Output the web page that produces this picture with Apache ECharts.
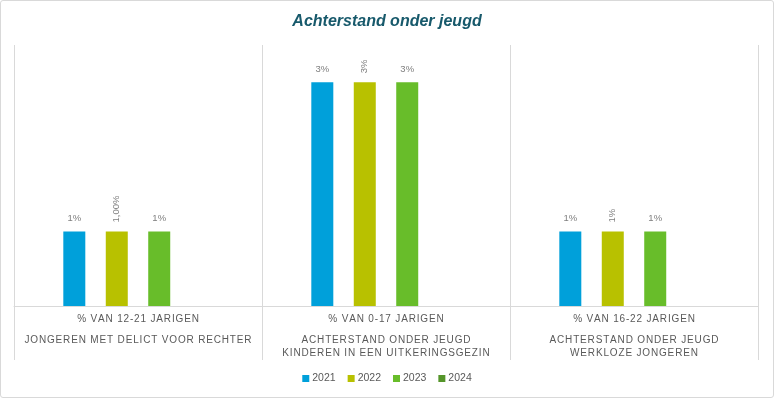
<!DOCTYPE html>
<html>
<head>
<meta charset="utf-8">
<script src="https://cdn.jsdelivr.net/npm/echarts@6/dist/echarts.min.js"></script>
<style>
html,body{margin:0;padding:0;background:#fff;}
#wrap{width:774px;height:398px;box-sizing:border-box;border:1px solid #d9d9d9;border-radius:3px;overflow:hidden;}
#chart{width:772px;height:396px;}
</style>
</head>
<body>
<div id="wrap"><div id="chart"></div></div>
<script>
const titleText = "Achterstand onder jeugd";
const unitLabels = ["% VAN 12-21 JARIGEN", "% VAN 0-17 JARIGEN", "% VAN 16-22 JARIGEN"];
const groupLabels = [
  ["JONGEREN MET DELICT VOOR RECHTER"],
  ["ACHTERSTAND ONDER JEUGD", "KINDEREN IN EEN UITKERINGSGEZIN"],
  ["ACHTERSTAND ONDER JEUGD", "WERKLOZE JONGEREN"]
];
const seriesNames = ["2021", "2022", "2023", "2024"];
const values2021 = [1, 3, 1];
const values2022 = [1, 3, 1];
const values2023 = [1, 3, 1];
const values2024 = [null, null, null];
const labels2021 = ["1%", "3%", "1%"];
const labels2022 = ["1,00%", "3%", "1%"];
const labels2023 = ["1%", "3%", "1%"];
const labels2024 = ["", "", ""];
const colors = ["#00a0da", "#b8c100", "#68bd2a", "#55952a"];

const categories = unitLabels.map((u, i) => i);
const sp = s => s.split('').join('\u200A');

const allValues = [values2021, values2022, values2023, values2024];
const allLabels = [labels2021, labels2022, labels2023, labels2024];

const chart = echarts.init(document.getElementById('chart'), null, {renderer: 'canvas'});
const series = seriesNames.map((name, si) => ({
  name: name,
  type: 'bar',
  barWidth: 22,
  barGap: '93%',
  itemStyle: {color: colors[si]},
  data: allValues[si],
  label: {
    show: true,
    position: 'top',
    distance: si === 1 ? 9 : 8,
    rotate: si === 1 ? 90 : 0,
    align: si === 1 ? 'left' : 'center',
    verticalAlign: si === 1 ? 'middle' : 'bottom',
    fontFamily: 'Liberation Sans, Arial, sans-serif',
    fontSize: 9.5,
    color: '#7f7f7f',
    formatter: p => allLabels[si][p.dataIndex]
  }
}));

chart.setOption({
  animation: false,
  color: colors,
  title: {
    text: titleText,
    left: 'center',
    top: 8,
    textStyle: {fontFamily: 'Liberation Sans, Arial, sans-serif', fontSize: 16, fontStyle: 'italic', fontWeight: 'bold', color: '#17596b'}
  },
  legend: {
    data: seriesNames,
    bottom: 8,
    left: 'center',
    itemWidth: 7,
    itemHeight: 7,
    itemGap: 12,
    icon: 'rect',
    textStyle: {fontFamily: 'Liberation Sans, Arial, sans-serif', fontSize: 10.5, color: '#595959', padding: [0,0,0,-2]}
  },
  grid: {left: 13, right: 15, top: 44, bottom: 91, containLabel: false},
  xAxis: {
    type: 'category',
    data: categories,
    axisLine: {show: true, lineStyle: {color: '#d9d9d9', width: 1}},
    axisTick: {show: true, length: 54, lineStyle: {color: '#d9d9d9'}},
    splitLine: {show: true, lineStyle: {color: '#d9d9d9'}},
    axisLabel: {
      interval: 0,
      margin: 6,
      formatter: (v, i) => {
        const lines = ['{u|' + sp(unitLabels[i]) + '}', '{s| }'];
        groupLabels[i].forEach(g => lines.push('{g|' + sp(g) + '}'));
        return lines.join('\n');
      },
      rich: {
        u: {fontFamily: 'Liberation Sans, Arial, sans-serif', fontSize: 10, color: '#595959', lineHeight: 14, align: 'center'},
        s: {fontSize: 1, lineHeight: 8},
        g: {fontFamily: 'Liberation Sans, Arial, sans-serif', fontSize: 10, color: '#595959', lineHeight: 13, align: 'center'}
      }
    }
  },
  yAxis: {type: 'value', min: 0, max: 3.5, show: false, splitLine: {show: false}},
  series: series
});
</script>
</body>
</html>
